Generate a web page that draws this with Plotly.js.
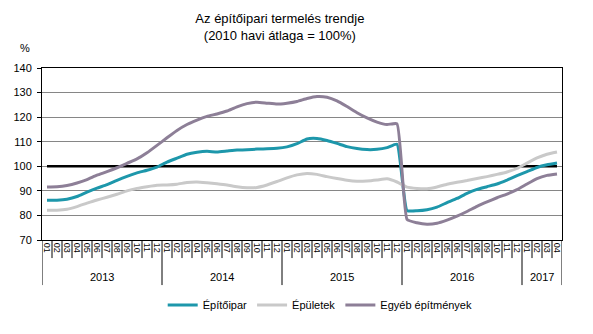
<!DOCTYPE html>
<html>
<head>
<meta charset="utf-8">
<script src="https://cdn.plot.ly/plotly-3.0.1.min.js"></script>
<style>html,body{margin:0;padding:0;background:#fff;}#chart{width:593px;height:334px;}</style>
</head>
<body>
<div id="chart"></div>
<script>
const years = ["2013","2014","2015","2016","2017"];
const monthsPerYear = [12,12,12,12,4];
const monthLabels = ["01","02","03","04","05","06","07","08","09","10","11","12",
  "01","02","03","04","05","06","07","08","09","10","11","12",
  "01","02","03","04","05","06","07","08","09","10","11","12",
  "01","02","03","04","05","06","07","08","09","10","11","12",
  "01","02","03","04"];
const epitoipar = [86.2,86.2,86.6,87.7,89.5,91.1,92.5,94.3,95.9,97.3,98.4,99.7,
  101.7,103.3,104.9,105.7,106.1,105.8,106.2,106.6,106.7,107.0,107.1,107.3,
  107.9,109.2,111.1,111.3,110.5,109.3,108.0,107.2,106.8,106.9,107.6,109.0,
  82.0,81.9,82.3,83.4,85.2,86.9,89.0,90.6,91.7,92.8,94.4,96.2,97.8,99.5,100.6,101.3];
const epuletek = [82.1,82.1,82.5,83.6,85.0,86.3,87.4,88.6,90.0,91.0,91.7,92.3,
  92.4,92.7,93.4,93.6,93.3,92.9,92.4,91.7,91.3,91.4,92.4,93.8,
  95.3,96.5,97.1,96.7,95.8,95.0,94.3,93.9,94.0,94.4,94.9,93.6,
  91.5,91.0,90.9,91.6,92.7,93.5,94.2,95.0,95.8,96.7,97.7,99.1,101.3,103.4,104.9,105.8];
const egyeb = [91.6,91.7,92.2,93.2,94.6,96.4,97.8,99.4,101.2,103.0,105.5,108.5,
  111.6,114.6,117.0,118.8,120.3,121.3,122.5,124.2,125.5,126.1,125.7,125.3,
  125.7,126.4,127.6,128.4,128.1,126.6,124.3,121.8,119.7,118.0,117.0,117.3,
  78.4,77.0,76.4,76.8,78.1,79.7,81.6,83.7,85.5,87.2,88.7,90.5,92.8,95.0,96.3,96.9];
const baseline = 100;
const seriesNames = ["Építőipar","Épületek","Egyéb építmények"];
const colors = ["#1d97ab","#c9c9c9","#8d7f97"];

const n = monthLabels.length;
const xs = monthLabels.map((_, i) => i);
const font = "Liberation Sans, Arial, sans-serif";

const traces = [
  {x: xs, y: xs.map(() => baseline), mode: "lines", line: {color: "#000", width: 2.5}, showlegend: false, hoverinfo: "skip"},
  {x: xs, y: epitoipar, name: seriesNames[0], mode: "lines", line: {color: colors[0], width: 3, shape: "spline", smoothing: 0.4}},
  {x: xs, y: epuletek, name: seriesNames[1], mode: "lines", line: {color: colors[1], width: 3, shape: "spline", smoothing: 0.4}},
  {x: xs, y: egyeb, name: seriesNames[2], mode: "lines", line: {color: colors[2], width: 3, shape: "spline", smoothing: 0.4}}
];

const shapes = [];
const annotations = [];
let start = 0;
const yearBounds = [-0.5];
years.forEach((yr, k) => {
  const cnt = monthsPerYear[k];
  annotations.push({x: start + (cnt - 1) / 2, y: -0.215, xref: "x", yref: "paper", text: yr, showarrow: false,
    font: {family: font, size: 11, color: "#000"}, xanchor: "center", yanchor: "middle"});
  start += cnt;
  yearBounds.push(start - 0.5);
});
for (let i = 1; i < n; i++) {
  const b = i - 0.5;
  if (yearBounds.includes(b)) continue;
  shapes.push({type: "line", xref: "x", yref: "paper", x0: b, x1: b, y0: 0, y1: -0.105, line: {color: "#000", width: 1}});
}
yearBounds.forEach(b => {
  shapes.push({type: "line", xref: "x", yref: "paper", x0: b, x1: b, y0: 0, y1: -0.262, line: {color: "#000", width: 1}});
});
annotations.push({x: -0.033, y: 1.116, xref: "paper", yref: "paper", text: "%", showarrow: false,
  font: {family: font, size: 11, color: "#000"}, xanchor: "center", yanchor: "middle"});

const layout = {
  width: 593, height: 334,
  margin: {l: 42, r: 31, t: 68, b: 94},
  paper_bgcolor: "#fff", plot_bgcolor: "#fff",
  font: {family: font, size: 11, color: "#000"},
  title: {text: "Az építőipari termelés trendje<br>(2010 havi átlaga = 100%)", x: 0.472, xanchor: "center",
    y: 0.93, yanchor: "top", font: {family: font, size: 13, color: "#000"}},
  xaxis: {range: [-0.5, n - 0.5], tickmode: "array", tickvals: xs, ticktext: monthLabels, tickangle: 90,
    tickfont: {family: font, size: 9, color: "#000"}, ticks: "", showgrid: false, zeroline: false,
    showline: true, linecolor: "#000", linewidth: 1, mirror: true, fixedrange: true},
  yaxis: {range: [70, 140], dtick: 10, tick0: 70, showgrid: true, gridcolor: "#868686", gridwidth: 1,
    ticks: "outside", ticklen: 4, tickcolor: "#000", ticklabelstandoff: 3, tickfont: {family: font, size: 11, color: "#000"},
    showline: true, linecolor: "#000", linewidth: 1, mirror: true, zeroline: false, fixedrange: true},
  legend: {orientation: "h", x: 0.535, xanchor: "center", y: -0.378, yanchor: "middle",
    font: {family: font, size: 11, color: "#000"}, itemwidth: 30, bgcolor: "rgba(0,0,0,0)"},
  shapes: shapes,
  annotations: annotations,
  showlegend: true
};

Plotly.newPlot("chart", traces, layout, {displayModeBar: false, staticPlot: true});
</script>
</body>
</html>
